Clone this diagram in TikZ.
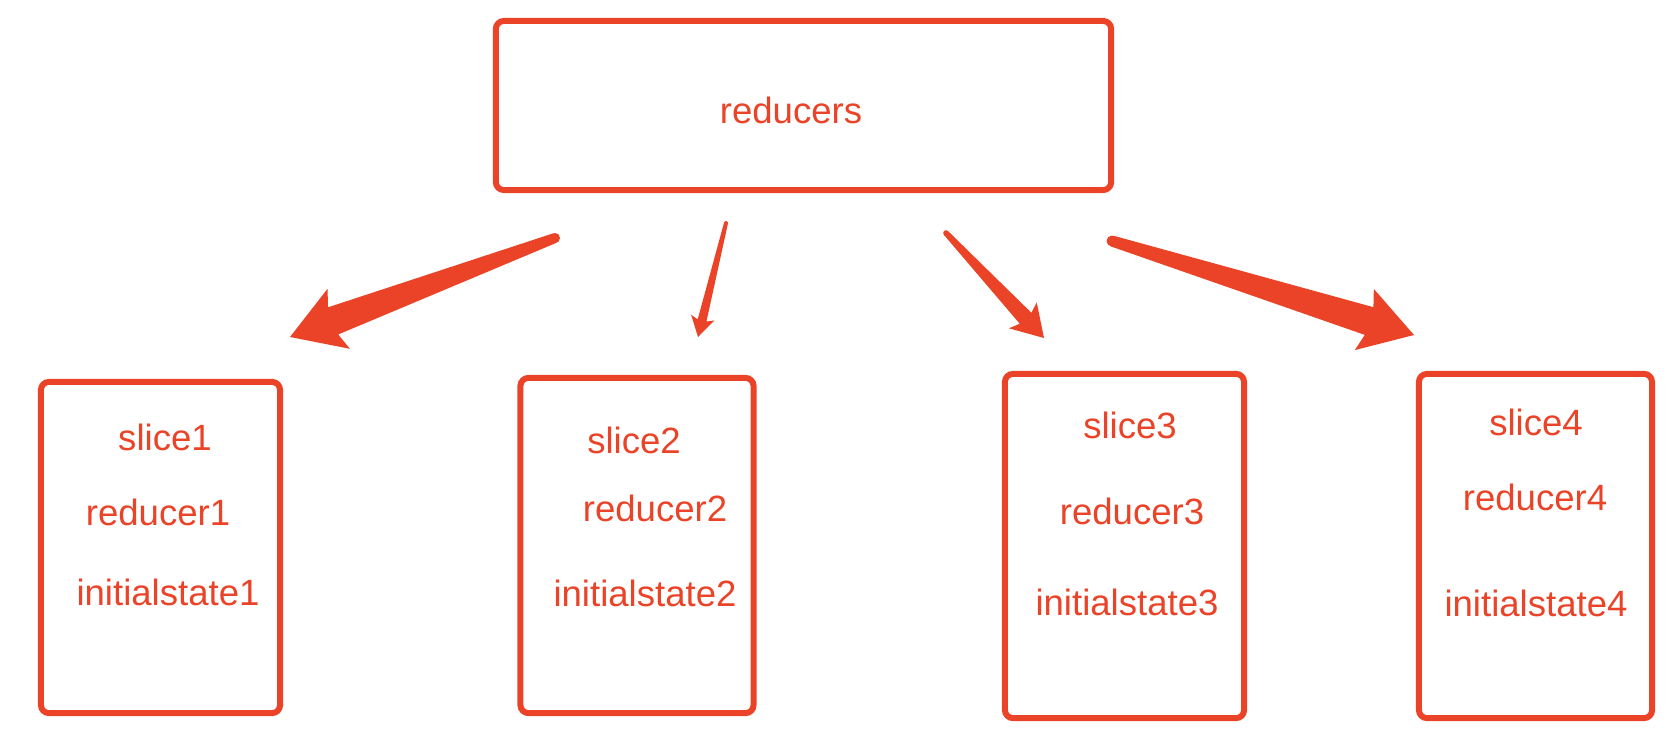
\documentclass[tikz,border=0pt]{standalone}
\usepackage{fontspec}
\setmainfont{Liberation Sans}
\usepackage{tikz}
\usetikzlibrary{calc}
\usepackage{xcolor}
\definecolor{accent}{HTML}{EA4328}

\tikzset{
  box/.style={draw=accent, line width=1.7pt, rounded corners=0.08cm, inner sep=0pt},
  entry/.style={text=accent, font=\fontsize{10.4}{12}\selectfont, inner sep=0pt},
}

% tapered arrow: tail, tip, tail hw, shaft hw, head hw, join dist, barb dist
\newcommand{\taperarrow}[7]{%
  \coordinate (#1j) at ($(#2)!#6!(#1)$);
  \coordinate (#1b) at ($(#2)!#7!(#1)$);
  \fill[accent] (#1) circle (#3);
  \fill[accent] ($(#1)!#3!90:(#2)$) -- ($(#1j)!#4!90:(#2)$) -- ($(#1b)!#5!90:(#2)$) -- (#2)
    -- ($(#1b)!#5!-90:(#2)$) -- ($(#1j)!#4!-90:(#2)$) -- ($(#1)!#3!-90:(#2)$) -- cycle;
}

\begin{document}
\begin{tikzpicture}[x=0.01cm, y=-0.01cm]
  \useasboundingbox (0,0) rectangle (1678,742);

  % top box
  \node[box, minimum width=6.15cm, minimum height=1.69cm] (top) at (803.5,105.5) {};
  \node[entry] (reducers) at (791,110) {reducers};

  % slice boxes
  \node[box, minimum width=2.39cm, minimum height=3.31cm] (box1) at (160.5,547.5) {};
  \node[box, minimum width=2.33cm, minimum height=3.35cm] (box2) at (637,545.5) {};
  \node[box, minimum width=2.39cm, minimum height=3.44cm] (box3) at (1124.5,546) {};
  \node[box, minimum width=2.33cm, minimum height=3.44cm] (box4) at (1535.5,546) {};

  \node[entry] (slice1) at (165,437) {slice1};
  \node[entry] (reducer1) at (158,512) {reducer1};
  \node[entry] (init1) at (168,592) {initialstate1};

  \node[entry] (slice2) at (634,440) {slice2};
  \node[entry] (reducer2) at (655,508) {reducer2};
  \node[entry] (init2) at (645,593) {initialstate2};

  \node[entry] (slice3) at (1130,425) {slice3};
  \node[entry] (reducer3) at (1132,511) {reducer3};
  \node[entry] (init3) at (1127,602) {initialstate3};

  \node[entry] (slice4) at (1536,422) {slice4};
  \node[entry] (reducer4) at (1535,497) {reducer4};
  \node[entry] (init4) at (1536,603) {initialstate4};

  % arrows
  \coordinate (t1) at (555,238); \coordinate (p1) at (290,337);
  \coordinate (t2) at (726,223); \coordinate (p2) at (698,337);
  \coordinate (t3) at (946,233); \coordinate (p3) at (1044,338);
  \coordinate (t4) at (1112,241); \coordinate (p4) at (1414,335);

  \taperarrow{t1}{p1}{0.05cm}{0.145cm}{0.32cm}{0.46cm}{0.52cm}
  \taperarrow{t2}{p2}{0.02cm}{0.045cm}{0.12cm}{0.17cm}{0.20cm}
  \taperarrow{t3}{p3}{0.028cm}{0.08cm}{0.19cm}{0.27cm}{0.31cm}
  \taperarrow{t4}{p4}{0.055cm}{0.145cm}{0.32cm}{0.47cm}{0.52cm}
\end{tikzpicture}
\end{document}
